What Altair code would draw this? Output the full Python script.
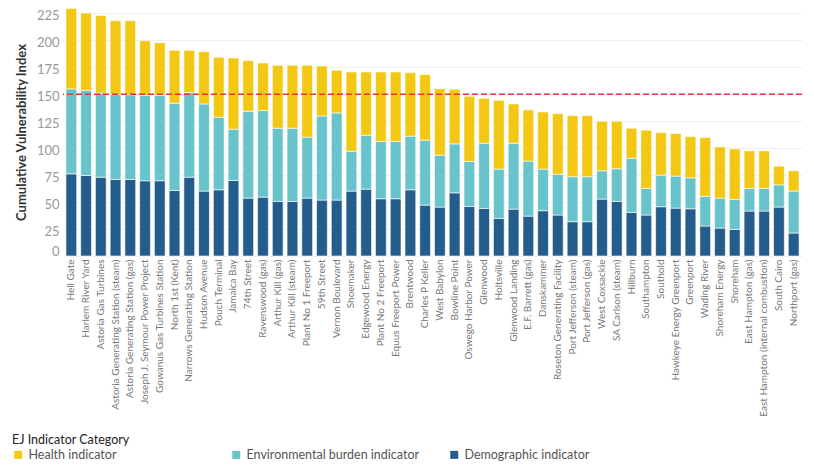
import altair as alt
import pandas as pd

plants = [
    "Hell Gate", "Harlem River Yard", "Astoria Gas Turbines",
    "Astoria Generating Station (steam)", "Astoria Generating Station (gas)",
    "Joseph J. Seymour Power Project", "Gowanus Gas Turbines Station",
    "North 1st (Kent)", "Narrows Generating Station", "Hudson Avenue",
    "Pouch Terminal", "Jamaica Bay", "74th Street", "Ravenswood (gas)",
    "Arthur Kill (gas)", "Arthur Kill (steam)", "Plant No 1 Freeport",
    "59th Street", "Vernon Boulevard", "Shoemaker", "Edgewood Energy",
    "Plant No 2 Freeport", "Equus Freeport Power", "Brentwood",
    "Charles P Keller", "West Babylon", "Bowline Point", "Oswego Harbor Power",
    "Glenwood", "Holtsville", "Glenwood Landing", "E.F. Barrett (gas)",
    "Danskammer", "Roseton Generating Facility", "Port Jefferson (steam)",
    "Port Jefferson (gas)", "West Coxsackie", "SA Carlson (steam)", "Hillburn",
    "Southampton", "Southold", "Hawkeye Energy Greenport", "Greenport",
    "Wading River", "Shoreham Energy", "Shoreham", "East Hampton (gas)",
    "East Hampton (internal combustion)", "South Cairo", "Northport (gas)",
]

demographic = [
    76.2, 74.7, 73.1, 71.0, 71.0, 69.8, 69.8, 60.8, 73.1, 60.2,
    61.4, 70.1, 53.7, 54.6, 50.6, 50.6, 53.7, 51.9, 51.9, 60.2,
    62.0, 53.1, 53.1, 61.4, 47.2, 45.4, 58.6, 46.0, 44.1, 34.9,
    43.5, 37.0, 42.0, 38.0, 31.8, 31.8, 52.8, 50.6, 40.4, 38.0,
    45.7, 44.4, 43.8, 27.8, 25.9, 24.7, 41.7, 41.7, 45.4, 21.3,
]
environmental = [
    78.8, 79.0, 78.1, 78.7, 78.6, 79.2, 79.2, 80.9, 78.4, 80.8,
    67.3, 47.5, 80.6, 80.3, 67.9, 67.9, 56.5, 78.0, 80.8, 37.0,
    50.0, 53.1, 53.1, 49.7, 60.2, 48.1, 45.4, 41.7, 60.5, 45.7,
    61.1, 51.0, 38.6, 37.9, 41.7, 41.7, 26.2, 30.3, 50.3, 24.7,
    29.3, 29.7, 28.7, 27.5, 27.8, 27.8, 21.0, 21.0, 20.6, 38.9,
]
health = [
    74.6, 71.6, 71.8, 68.5, 68.6, 50.7, 48.8, 49.0, 39.2, 48.5,
    55.6, 66.0, 46.9, 44.1, 58.4, 58.4, 66.7, 46.3, 39.5, 73.5,
    58.7, 64.5, 64.5, 58.9, 60.8, 61.7, 50.6, 60.4, 41.7, 63.8,
    36.4, 47.5, 53.0, 56.2, 56.7, 56.7, 46.0, 44.1, 27.8, 54.0,
    39.5, 39.5, 38.3, 54.6, 47.5, 46.9, 34.8, 34.8, 17.3, 18.8,
]

categories = ["Health indicator", "Environmental burden indicator", "Demographic indicator"]
colors = ["#F2C814", "#68C3CB", "#245C8B"]
threshold = [150]
y_ticks = [0, 25, 50, 75, 100, 125, 150, 175, 200, 225]

rows = []
for i, p in enumerate(plants):
    rows.append({"plant": p, "category": categories[2], "value": demographic[i], "rank": 0})
    rows.append({"plant": p, "category": categories[1], "value": environmental[i], "rank": 1})
    rows.append({"plant": p, "category": categories[0], "value": health[i], "rank": 2})
df = pd.DataFrame(rows)

ytitle = "Cumulative Vulnerability Index"
y_axis = alt.Axis(values=y_ticks, labelFontSize=13,
                  labelColor="#999999", ticks=False, domain=False,
                  gridColor="#efefef", labelPadding=4, labelFlush=True,
                  labelOverlap=False, labelOffset=2,
                  titleFontSize=13, titleFontWeight="bold",
                  titleColor="#333333", titlePadding=8)
y_scale = alt.Scale(domain=[0, 230], nice=False)

bars = alt.Chart(df).mark_bar(stroke="white", strokeWidth=0.6).encode(
    x=alt.X(
        "plant:N", sort=plants, title=None,
        scale=alt.Scale(paddingInner=0.27, paddingOuter=0.2),
        axis=alt.Axis(labelAngle=-90, labelFontSize=10, labelColor="#777777",
                      ticks=False, domain=False, labelPadding=3, labelLimit=250),
    ),
    y=alt.Y("value:Q", stack="zero", title=ytitle, scale=y_scale, axis=y_axis),
    color=alt.Color(
        "category:N",
        scale=alt.Scale(domain=categories, range=colors),
        legend=alt.Legend(
            title="EJ Indicator Category", orient="none", legendX=-51, legendY=426,
            direction="horizontal", columns=3, gridAlign="all", columnPadding=28,
            symbolType="square", symbolSize=64, symbolStrokeWidth=0,
            labelFontSize=12.5, labelColor="#555555", labelLimit=300,
            titleFontSize=12.5, titleFontWeight="normal", titleColor="#222222",
            titlePadding=2,
        ),
    ),
    order=alt.Order("rank:Q", sort="ascending"),
)

rule = alt.Chart(pd.DataFrame({"value": threshold})).mark_rule(
    color="#E8323A", strokeDash=[6, 3], strokeWidth=1.5
).encode(y=alt.Y("value:Q", title=ytitle, scale=y_scale, axis=y_axis))

chart = alt.layer(bars, rule).properties(
    width=739, height=248,
    autosize=alt.AutoSizeParams(type="none"),
    padding={"left": 55, "top": 0, "right": 4, "bottom": 205},
).configure(font="Lato").configure_axisY(labelOverlap=False).configure_view(stroke=None)

chart.save("out.html", embed_options={"renderer": "svg", "actions": False})
